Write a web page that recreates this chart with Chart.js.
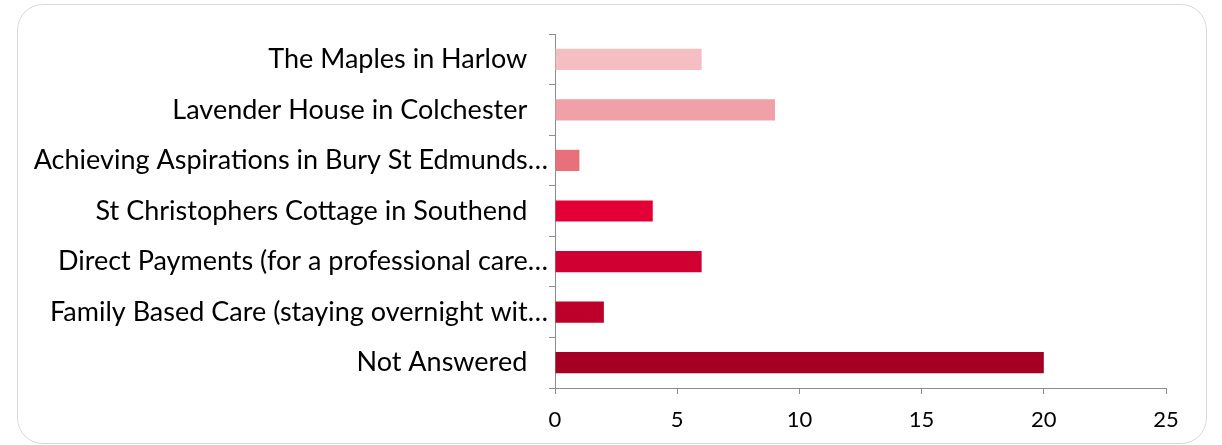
<!DOCTYPE html>
<html>
<head>
<meta charset="utf-8">
<script src="https://cdn.jsdelivr.net/npm/chart.js"></script>
<style>
  html, body { margin: 0; padding: 0; background: #fff; }
  #frame {
    position: absolute; left: 17px; top: 4px; width: 1190px; height: 440px;
    border: 1px solid #d9d9d9; border-radius: 26px; box-sizing: border-box;
  }
  #careChart { position: absolute; left: 0; top: 0; }
</style>
</head>
<body>
<div id="frame"></div>
<canvas id="careChart" width="1222" height="445"></canvas>
<script>
const categories = [
    'The Maples in Harlow',
    'Lavender House in Colchester',
    'Achieving Aspirations in Bury St Edmunds…',
    'St Christophers Cottage in Southend',
    'Direct Payments (for a professional care…',
    'Family Based Care (staying overnight wit…',
    'Not Answered'
];
const responses = [6, 9, 1, 4, 6, 2, 20];
const barColours = ['#f4bec3', '#efa1a7', '#e8707b', '#e20034', '#d10032', '#bd002a', '#a50024'];
const xTicks = [0, 5, 10, 15, 20, 25];

const axisGrey = '#8c8c8c';
const fontFamily = 'Lato, "Open Sans", sans-serif';

const ctx = document.getElementById('careChart').getContext('2d');
const careChart = new Chart(ctx, {
    type: 'bar',
    data: {
        labels: categories,
        datasets: [{
            data: responses,
            backgroundColor: barColours,
            borderWidth: 0,
            categoryPercentage: 0.42,
            barPercentage: 1
        }]
    },
    options: {
        indexAxis: 'y',
        responsive: false,
        animation: false,
        layout: { padding: { top: 34, right: 56, left: 0, bottom: 0 } },
        plugins: { legend: { display: false }, tooltip: { enabled: false } },
        scales: {
            x: {
                min: xTicks[0],
                max: xTicks[xTicks.length - 1],
                afterBuildTicks: axis => { axis.ticks = xTicks.map(v => ({ value: v })); },
                afterFit: axis => { axis.height = 57; },
                border: { color: axisGrey, width: 1 },
                grid: { drawOnChartArea: false, color: axisGrey, tickLength: 6 },
                ticks: { color: '#000', font: { family: fontFamily, size: 22 }, padding: 13 }
            },
            y: {
                afterFit: axis => { axis.width = 555; },
                border: { color: axisGrey, width: 1 },
                grid: { drawOnChartArea: false, color: axisGrey, tickLength: 6 },
                ticks: {
                    color: '#000',
                    font: { family: fontFamily, size: 27 },
                    padding: 1,
                    // Excel leaves a gap after full labels, truncated ones run to the axis
                    callback: function (value) {
                        const label = categories[value];
                        return label.endsWith('…') ? label : label + '   ';
                    }
                }
            }
        }
    }
});
</script>
</body>
</html>
